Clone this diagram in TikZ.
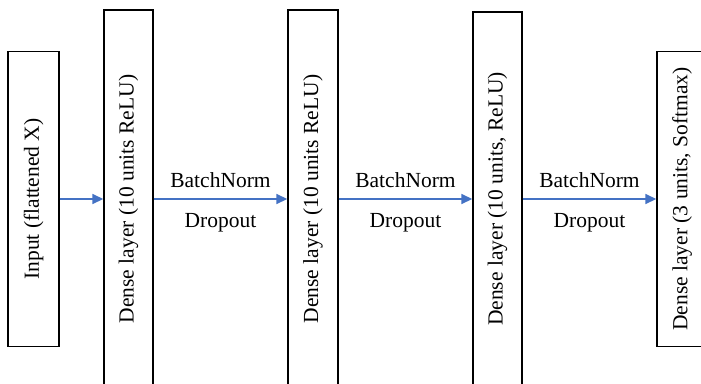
\documentclass[tikz,border=0pt]{standalone}
\usepackage{fontspec}
\setmainfont{Liberation Serif}
\usetikzlibrary{arrows.meta}
\definecolor{flowblue}{RGB}{68,114,196}

\begin{document}
\begin{tikzpicture}[x=1pt, y=-1pt,
  every node/.style={font=\fontsize{21.5}{25}\selectfont, inner sep=0pt},
  layer/.style={draw, line width=1.4pt, rotate=90, minimum height=50},
  flow/.style={draw=flowblue, line width=1.6pt, -{Triangle[length=11pt, width=10pt]}}]
\useasboundingbox (0,0) rectangle (701,383);
\clip (0,0) rectangle (701,383);

\node[layer, minimum width=295, minimum height=51] (in) at (33.5,199) {Input (flattened X)};
\node[layer, minimum width=378, minimum height=49] (d1) at (128.5,199) {Dense layer (10 units ReLU)};
\node[layer, minimum width=378] (d2) at (313,199) {Dense layer (10 units ReLU)};
\node[layer, minimum width=374, minimum height=49] (d3) at (497.5,199) {Dense layer (10 units, ReLU)};
\node[layer, minimum width=295] (d4) at (682,199) {Dense layer (3 units, Softmax)};

\path
(in.south) edge[flow] (d1.north)
(d1.south) edge[flow] node[above=10pt] {BatchNorm} node[below=14pt] {Dropout} (d2.north)
(d2.south) edge[flow] node[above=10pt] {BatchNorm} node[below=14pt] {Dropout} (d3.north)
(d3.south) edge[flow] node[above=10pt] {BatchNorm} node[below=14pt] {Dropout} (d4.north)
;
\end{tikzpicture}
\end{document}
